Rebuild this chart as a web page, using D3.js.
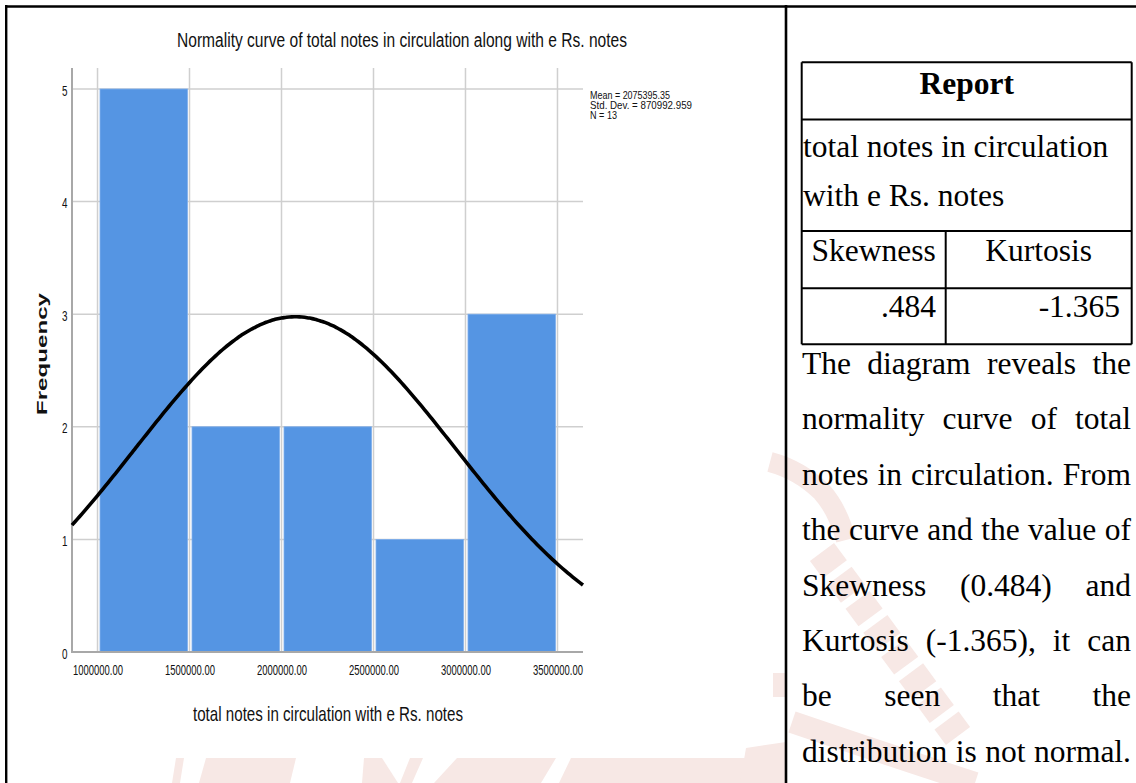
<!DOCTYPE html>
<html>
<head>
<meta charset="utf-8">
<script src="https://cdn.jsdelivr.net/npm/d3@7/dist/d3.min.js"></script>
<style>
  html, body { margin: 0; padding: 0; background: #fff; }
  svg { display: block; }
</style>
</head>
<body>
<svg id="page" width="1136" height="783"></svg>
<script>
// ---- Histogram data ----
const binStarts = [1000000, 1500000, 2000000, 2500000, 3000000];
const binEnds   = [1500000, 2000000, 2500000, 3000000, 3500000];
const binCounts = [5, 2, 2, 1, 3];

const xTicks      = [1000000, 1500000, 2000000, 2500000, 3000000, 3500000];
const xTickLabels = ["1000000.00", "1500000.00", "2000000.00", "2500000.00", "3000000.00", "3500000.00"];
const yTicks      = [0, 1, 2, 3, 4, 5];
const xExtent     = [861300, 3638700];
const yExtent     = [0, 5];

// Summary statistics (normal curve parameters)
const meanValue = 2075395.35;
const stdDevValue = 870992.959;
const sampleSize = 13;
const statLabels = ["Mean = 2075395.35", "Std. Dev. = 870992.959", "N = 13"];

const chartTitle = "Normality curve of total notes in circulation along with e Rs. notes";
const xAxisTitle = "total notes in circulation with e Rs. notes";
const yAxisTitle = "Frequency";

// ---- Report table and commentary ----
const reportTitle = "Report";
const variableLines = ["total notes in circulation", "with e Rs. notes"];
const statNames = ["Skewness", "Kurtosis"];
const statValues = [".484", "-1.365"];
const paragraphLines = [
  "The diagram reveals the",
  "normality curve of total",
  "notes in circulation. From",
  "the curve and the value of",
  "Skewness (0.484) and",
  "Kurtosis (-1.365), it can",
  "be seen that the",
  "distribution is not normal."
];

const svg = d3.select("#page");
const SANS_N = "'Liberation Sans Narrow','Arial Narrow','Liberation Sans',Arial,sans-serif";
const SANS = "'Liberation Sans',Arial,sans-serif";
const SERIF = "'Liberation Serif','Times New Roman',serif";

// ---- faint background seal ----
const SEAL = "#f7e8e5";
const wm = svg.append("g").attr("fill", SEAL).attr("stroke", "none");
[
  [[172,783],[176,758],[184,758],[180,783]],
  [[199,783],[206,758],[296,758],[290,783]],
  [[362,783],[364,758],[382,758],[398,783]],
  [[400,783],[410,758],[423,758],[412,783]],
  [[434,783],[457,758],[556,758],[541,783]],
  [[559,783],[571,758],[753,758],[770,783]],
  [[740,783],[746,748],[786,742],[786,783]],
  [[773,697],[773,673],[786,673],[786,697]]
].forEach(p => wm.append("path").attr("d", d3.line()(p) + "Z"));
const wmArc = svg.append("g").attr("fill", "none").attr("stroke", SEAL);
wmArc.append("path").attr("d", "M770,462 Q800,470 822,492 Q838,510 846,540")
  .attr("stroke-width", 20);
wmArc.append("path").attr("d", "M822,552 Q880,630 958,736")
  .attr("stroke-width", 30).attr("stroke-dasharray", "22 8");
wmArc.append("path").attr("d", "M792,722 Q880,752 975,783")
  .attr("stroke-width", 22);

// ---- page frame ----
const frame = svg.append("g").attr("stroke", "#000").attr("fill", "none");
frame.append("line").attr("x1", 5).attr("x2", 1136).attr("y1", 6.5).attr("y2", 6.5).attr("stroke-width", 2.3);
frame.append("line").attr("x1", 6.2).attr("x2", 6.2).attr("y1", 5).attr("y2", 783).attr("stroke-width", 2.4);
frame.append("line").attr("x1", 786).attr("x2", 786).attr("y1", 5).attr("y2", 783).attr("stroke-width", 2.6);

// ---- histogram ----
const plotLeft = 72, plotRight = 583, plotTop = 68, plotBottom = 652;
const x = d3.scaleLinear().domain(xExtent).range([plotLeft, plotRight]);
const y = d3.scaleLinear().domain(yExtent).range([plotBottom, 89]);

const chart = svg.append("g");

// gridlines
chart.append("g").selectAll("line").data(xTicks).join("line")
  .attr("x1", d => x(d)).attr("x2", d => x(d))
  .attr("y1", plotTop).attr("y2", plotBottom)
  .attr("stroke", "#cfcfcf").attr("stroke-width", 1.5);
chart.append("g").selectAll("line").data(yTicks.filter(d => d > 0)).join("line")
  .attr("x1", plotLeft).attr("x2", plotRight)
  .attr("y1", d => y(d)).attr("y2", d => y(d))
  .attr("stroke", "#cfcfcf").attr("stroke-width", 1.5);

// bars
const bins = binStarts.map((s, i) => ({ x0: s, x1: binEnds[i], count: binCounts[i] }));
chart.append("g").selectAll("rect").data(bins).join("rect")
  .attr("x", d => x(d.x0) + 2.5)
  .attr("width", d => x(d.x1) - x(d.x0) - 4.5)
  .attr("y", d => y(d.count))
  .attr("height", d => y(0) - y(d.count))
  .attr("fill", "#5595e3")
  .attr("stroke", "#7eaeec").attr("stroke-width", 0.8);

// axes
chart.append("line").attr("x1", plotLeft).attr("x2", plotLeft)
  .attr("y1", plotTop).attr("y2", plotBottom + 1)
  .attr("stroke", "#a8a8a8").attr("stroke-width", 2);
chart.append("line").attr("x1", plotLeft - 1).attr("x2", plotRight)
  .attr("y1", plotBottom).attr("y2", plotBottom)
  .attr("stroke", "#a8a8a8").attr("stroke-width", 2);

const xAxis = chart.append("g").attr("transform", `translate(0,${plotBottom})`)
  .call(d3.axisBottom(x).tickValues(xTicks).tickSize(0)
    .tickFormat((d, i) => xTickLabels[i]));
xAxis.select(".domain").remove();
xAxis.selectAll("text")
  .attr("y", 23).attr("dy", 0)
  .attr("font-family", SANS_N).attr("font-size", 14).attr("fill", "#111")
  .attr("textLength", 50).attr("lengthAdjust", "spacingAndGlyphs");

const yAxis = chart.append("g").attr("transform", `translate(${plotLeft},0)`)
  .call(d3.axisLeft(y).tickValues(yTicks).tickSize(0).tickFormat(d3.format("d")));
yAxis.select(".domain").remove();
yAxis.selectAll("text")
  .attr("x", -4.5).attr("dy", 6)
  .attr("font-family", SANS_N).attr("font-size", 14).attr("fill", "#111")
  .attr("textLength", 5.5).attr("lengthAdjust", "spacingAndGlyphs");

// normal curve scaled to the histogram counts
const binWidth = binEnds[0] - binStarts[0];
const density = v => sampleSize * binWidth / (stdDevValue * Math.sqrt(2 * Math.PI)) *
  Math.exp(-0.5 * Math.pow((v - meanValue) / stdDevValue, 2));
const curvePts = d3.range(0, 201).map(i => xExtent[0] + (xExtent[1] - xExtent[0]) * i / 200);
chart.append("path")
  .datum(curvePts)
  .attr("d", d3.line().x(v => x(v)).y(v => y(density(v))).curve(d3.curveBasis))
  .attr("fill", "none").attr("stroke", "#000").attr("stroke-width", 3.6)
  .attr("stroke-linejoin", "round");

// titles
chart.append("text").text(chartTitle)
  .attr("x", 177).attr("y", 47)
  .attr("font-family", SANS_N).attr("font-size", 20).attr("fill", "#111")
  .attr("textLength", 450).attr("lengthAdjust", "spacingAndGlyphs");
chart.append("text").text(xAxisTitle)
  .attr("x", 193).attr("y", 721)
  .attr("font-family", SANS_N).attr("font-size", 21).attr("fill", "#111")
  .attr("textLength", 270).attr("lengthAdjust", "spacingAndGlyphs");
chart.append("text").text(yAxisTitle)
  .attr("transform", "rotate(-90)")
  .attr("x", -415).attr("y", 46.5)
  .attr("font-family", SANS).attr("font-weight", "bold").attr("font-size", 15).attr("fill", "#111")
  .attr("textLength", 122).attr("lengthAdjust", "spacingAndGlyphs");

// statistics legend
const statWidths = [80, 102, 27];
chart.append("g").selectAll("text").data(statLabels).join("text")
  .text(d => d)
  .attr("x", 590).attr("y", (d, i) => 99 + i * 10)
  .attr("font-family", SANS_N).attr("font-size", 11).attr("fill", "#111")
  .attr("textLength", (d, i) => statWidths[i]).attr("lengthAdjust", "spacingAndGlyphs");

// ---- report table ----
const tbl = svg.append("g");
const tL = 801.7, tR = 1131.7, tTop = 62.3, r1 = 119.5, r2 = 231, r3 = 288.3, tBot = 344.3, colMid = 945.7;
const tl = tbl.append("g").attr("stroke", "#000").attr("stroke-width", 2);
[[tL, tTop, tR, tTop], [tL, r1, tR, r1], [tL, r2, tR, r2], [tL, r3, tR, r3], [tL, tBot, tR, tBot],
 [tL, tTop, tL, tBot], [tR, tTop, tR, tBot], [colMid, r2, colMid, tBot]]
  .forEach(s => tl.append("line").attr("x1", s[0]).attr("y1", s[1]).attr("x2", s[2]).attr("y2", s[3]));

const FS = 31.5;
tbl.append("text").text(reportTitle)
  .attr("x", (tL + tR) / 2).attr("y", 94).attr("text-anchor", "middle")
  .attr("font-family", SERIF).attr("font-weight", "bold").attr("font-size", FS);
tbl.selectAll("text.var").data(variableLines).join("text").attr("class", "var")
  .text(d => d).attr("x", 803).attr("y", (d, i) => 157 + i * 48.5)
  .attr("font-family", SERIF).attr("font-size", FS);
tbl.selectAll("text.sn").data(statNames).join("text").attr("class", "sn")
  .text(d => d).attr("text-anchor", "middle")
  .attr("x", (d, i) => i === 0 ? (tL + colMid) / 2 : (colMid + tR) / 2).attr("y", 260.5)
  .attr("font-family", SERIF).attr("font-size", FS);
tbl.selectAll("text.sv").data(statValues).join("text").attr("class", "sv")
  .text(d => d).attr("text-anchor", "end")
  .attr("x", (d, i) => i === 0 ? 936 : 1120).attr("y", 317)
  .attr("font-family", SERIF).attr("font-size", FS);

// justified commentary paragraph
const pLeft = 802, pRight = 1131, pTop = 374, pStep = 55.4;
const para = svg.append("g").attr("font-family", SERIF).attr("font-size", FS).attr("fill", "#000");
paragraphLines.forEach((line, li) => {
  const words = line.split(" ");
  const nodes = words.map(w => para.append("text").text(w).attr("y", pTop + li * pStep));
  const widths = nodes.map(n => n.node().getComputedTextLength());
  const total = d3.sum(widths);
  const gap = words.length > 1 ? (pRight - pLeft - total) / (words.length - 1) : 0;
  let cx = pLeft;
  nodes.forEach((n, i) => { n.attr("x", cx); cx += widths[i] + gap; });
});
</script>
</body>
</html>
